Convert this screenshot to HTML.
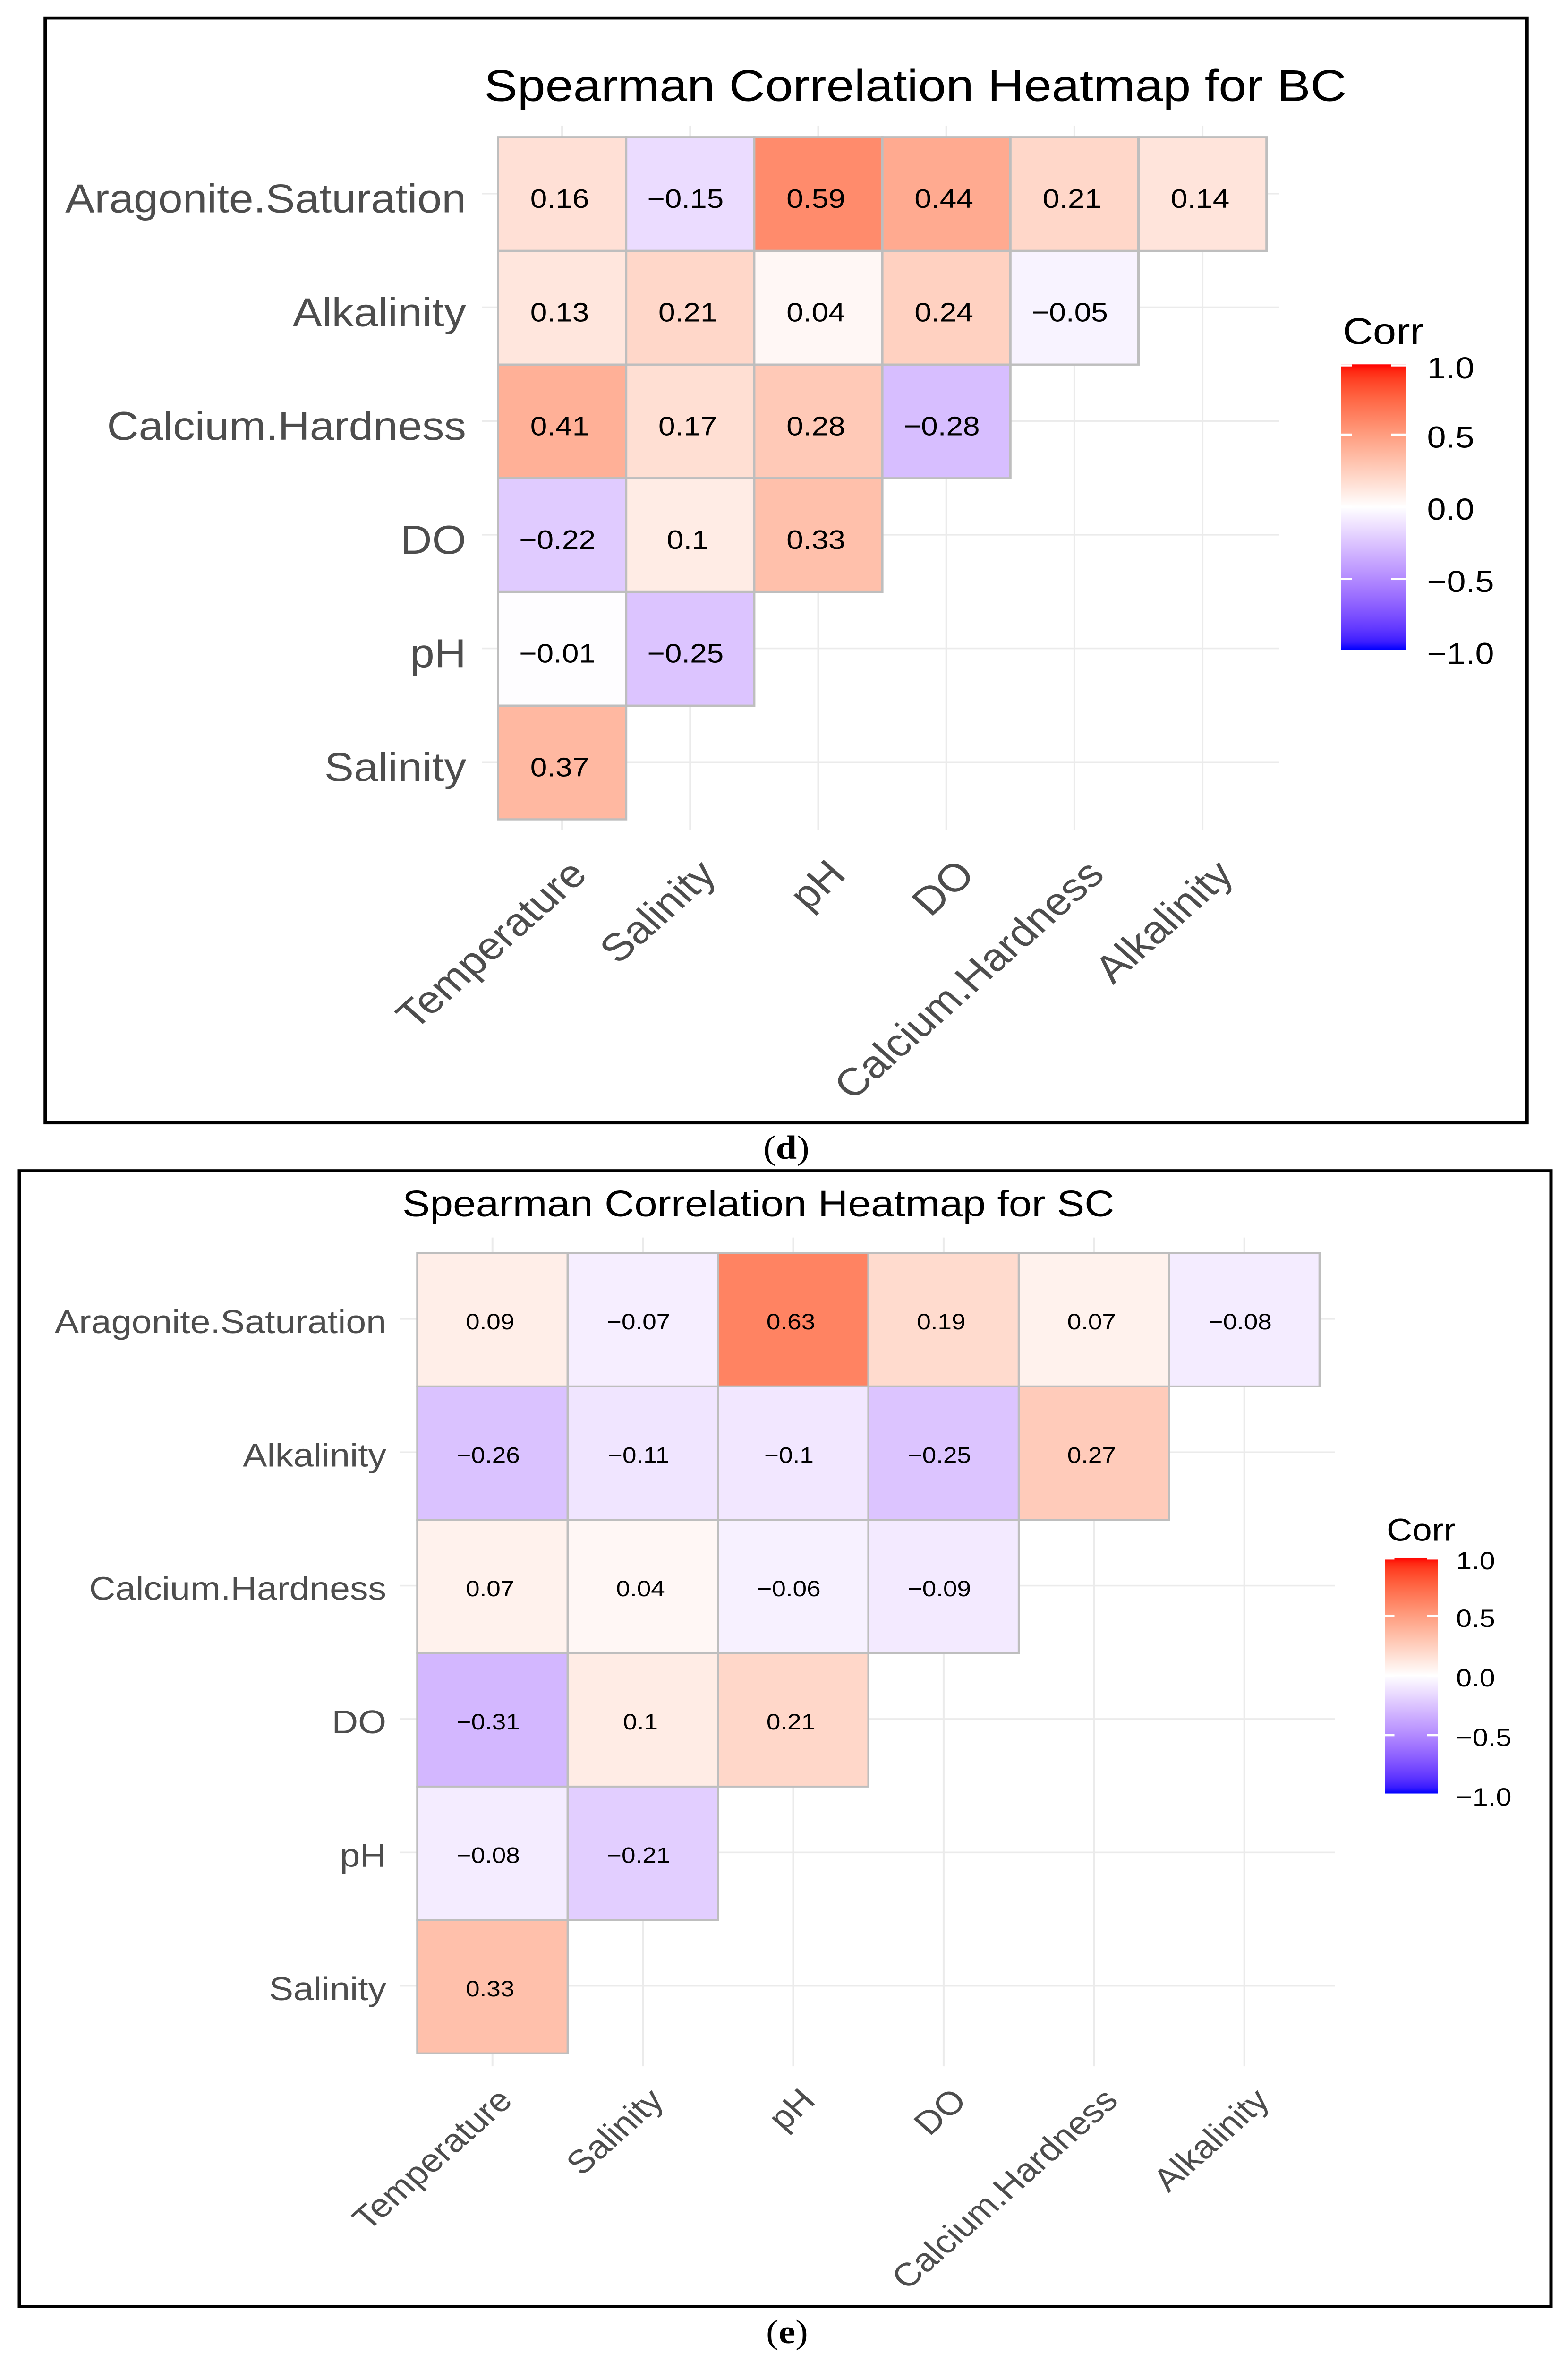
<!DOCTYPE html>
<html lang="en">
<head>
<meta charset="utf-8">
<title>Spearman Correlation Heatmaps for BC and SC</title>
<style>
html,body{margin:0;padding:0;background:#fff;width:100%;height:100%;overflow:hidden}
svg{display:block;width:100vw;height:100vh}
text{font-family:"Liberation Sans",Arial,sans-serif}
.caption{font-family:"Liberation Serif","Times New Roman",serif;font-weight:bold;fill:#000}
.caption tspan{font-weight:normal}
</style>
</head>
<body>
<svg id="figure" xmlns="http://www.w3.org/2000/svg" viewBox="0 0 3320 5640" preserveAspectRatio="none">
  <defs id="defs"></defs>
  <rect x="0" y="0" width="3320" height="5640" fill="#fff"/>

  <g id="panel-d">
    <rect x="96" y="43" width="3137" height="2638" fill="#fff" stroke="#000" stroke-width="7.5"/>
    <text x="1025" y="241" font-size="106" fill="#000">Spearman Correlation Heatmap for BC</text>
    <text class="caption" x="1616" y="2767" font-size="80"><tspan>(</tspan>d<tspan>)</tspan></text>
  </g>

  <g id="panel-e">
    <rect x="41" y="2795.5" width="3243" height="2712" fill="#fff" stroke="#000" stroke-width="7"/>
    <text x="852" y="2904" font-size="87.5" fill="#000">Spearman Correlation Heatmap for SC</text>
    <text class="caption" x="1622" y="5595" font-size="80"><tspan>(</tspan>e<tspan>)</tspan></text>
  </g>
</svg>

<script>
// ---- Chart data ----
const columnLabels = ['Temperature', 'Salinity', 'pH', 'DO', 'Calcium.Hardness', 'Alkalinity'];
const rowLabels = ['Aragonite.Saturation', 'Alkalinity', 'Calcium.Hardness', 'DO', 'pH', 'Salinity'];
const bcValues = [
  [0.16, -0.15, 0.59, 0.44, 0.21, 0.14],
  [0.13, 0.21, 0.04, 0.24, -0.05],
  [0.41, 0.17, 0.28, -0.28],
  [-0.22, 0.1, 0.33],
  [-0.01, -0.25],
  [0.37]
];
const scValues = [
  [0.09, -0.07, 0.63, 0.19, 0.07, -0.08],
  [-0.26, -0.11, -0.1, -0.25, 0.27],
  [0.07, 0.04, -0.06, -0.09],
  [-0.31, 0.1, 0.21],
  [-0.08, -0.21],
  [0.33]
];
const legendTicks = [1, 0.5, 0, -0.5, -1];
const legendTickLabels = ['1.0', '0.5', '0.0', '\u22120.5', '\u22121.0'];

// ---- Panel layout ----
const layoutD = {
  id: 'd', groupId: 'panel-d', values: bcValues,
  left: 1054.5, top: 327.5, cellW: 271.2, cellH: 271.5, borderW: 5,
  gridLeft: 1021, gridRight: 2709, gridTop: 300, gridBottom: 1983, gridW: 4, gridDy: -1,
  yLabelRight: 987, yLabelDy: 44, yLabelSize: 96, yLabelStretch: 0.97,
  xLabelDx: 57, xLabelDrift: 2.6, xLabelY: 2093, xLabelSize: 93,
  cellTextSize: 64, cellTextDx: -5, cellTextDy: 33, negativeDx: -5,
  barLeft: 2840, barRight: 2976, barTop: 870, barBottom: 1551.5, barCapH: 5,
  notchLeft: 2863, notchRight: 2946, legendZero: 1210, legendUnit: 344.5,
  legendTitleX: 2843, legendTitleY: 821, legendTitleSize: 88.5, legendLabelX: 3021.5, legendLabelDy: 31, legendLabelSize: 72
};
const layoutE = {
  id: 'e', groupId: 'panel-e', values: scValues,
  left: 883.5, top: 2992, cellW: 318.4, cellH: 318.5, borderW: 4.5,
  gridLeft: 846, gridRight: 2826, gridTop: 2955, gridBottom: 4934, gridW: 4, gridDy: -2,
  yLabelRight: 818, yLabelDy: 32, yLabelSize: 79, yLabelStretch: 0.975,
  xLabelDx: 46, xLabelDrift: 2.2, xLabelY: 5020, xLabelSize: 78,
  cellTextSize: 53, cellTextDx: -5, cellTextDy: 23, negativeDx: -4,
  barLeft: 2933, barRight: 3045, barTop: 3719, barBottom: 4282.5, barCapH: 5,
  notchLeft: 2952.5, notchRight: 3021, legendZero: 4001, legendUnit: 284.5,
  legendTitleX: 2936, legendTitleY: 3679, legendTitleSize: 75, legendLabelX: 3083, legendLabelDy: 26, legendLabelSize: 59.5
};

// ---- Colour scale: blue - white - red, interpolated in CIE Lab ----
const NS = 'http://www.w3.org/2000/svg';
function srgbToLab(c) {
  const lin = c.map(function (v) { v /= 255; return v <= 0.04045 ? v / 12.92 : Math.pow((v + 0.055) / 1.055, 2.4); });
  const X = (0.4124564 * lin[0] + 0.3575761 * lin[1] + 0.1804375 * lin[2]) / 0.95047;
  const Y = 0.2126729 * lin[0] + 0.7151522 * lin[1] + 0.0721750 * lin[2];
  const Z = (0.0193339 * lin[0] + 0.1191920 * lin[1] + 0.9503041 * lin[2]) / 1.08883;
  const f = function (t) { return t > 0.008856 ? Math.cbrt(t) : 7.787 * t + 16 / 116; };
  return [116 * f(Y) - 16, 500 * (f(X) - f(Y)), 200 * (f(Y) - f(Z))];
}
function labToCss(l) {
  const fy = (l[0] + 16) / 116, fx = fy + l[1] / 500, fz = fy - l[2] / 200;
  const g = function (t) { return t * t * t > 0.008856 ? t * t * t : (t - 16 / 116) / 7.787; };
  const X = g(fx) * 0.95047, Y = g(fy), Z = g(fz) * 1.08883;
  const rgb = [
    3.2404542 * X - 1.5371385 * Y - 0.4985314 * Z,
    -0.9692660 * X + 1.8760108 * Y + 0.0415560 * Z,
    0.0556434 * X - 0.2040259 * Y + 1.0572252 * Z
  ].map(function (v) {
    v = Math.max(0, Math.min(1, v));
    v = v <= 0.0031308 ? 12.92 * v : 1.055 * Math.pow(v, 1 / 2.4) - 0.055;
    return Math.round(v * 255);
  });
  return 'rgb(' + rgb.join(',') + ')';
}
const labHigh = srgbToLab([255, 0, 0]);
const labMid = srgbToLab([255, 255, 255]);
const labLow = srgbToLab([0, 0, 255]);
function fillScale(v) {
  const t = Math.min(1, Math.abs(v));
  const end = v >= 0 ? labHigh : labLow;
  return labToCss(labMid.map(function (m, i) { return m + (end[i] - m) * t; }));
}
function printedValue(v) {
  return String(v).replace('-', '\u2212');
}

// ---- Drawing helpers ----
function makeText(parent, str, x, y, size, fill, anchor) {
  const el = document.createElementNS(NS, 'text');
  el.setAttribute('x', x);
  el.setAttribute('y', y);
  el.setAttribute('font-size', size);
  el.setAttribute('fill', fill);
  el.setAttribute('text-anchor', anchor);
  el.textContent = str;
  parent.appendChild(el);
  return el;
}
function makeRect(parent, x, y, w, h, fill) {
  const el = document.createElementNS(NS, 'rect');
  el.setAttribute('x', x);
  el.setAttribute('y', y);
  el.setAttribute('width', w);
  el.setAttribute('height', h);
  el.setAttribute('fill', fill);
  parent.appendChild(el);
  return el;
}

function drawPanel(p) {
  const group = document.getElementById(p.groupId);
  const xScale = function (i) { return p.left + p.cellW * (i + 0.5); };
  const yScale = function (j) { return p.top + p.cellH * (j + 0.5); };

  // gridlines
  columnLabels.forEach(function (name, i) {
    const g = makeRect(group, xScale(i) - p.gridW / 2, p.gridTop, p.gridW, p.gridBottom - p.gridTop, '#ebebeb');
    
    
  });
  rowLabels.forEach(function (name, j) {
    const g = makeRect(group, p.gridLeft, yScale(j) + p.gridDy - p.gridW / 2, p.gridRight - p.gridLeft, p.gridW, '#ebebeb');
    
    
  });

  // cells and their printed values
  p.values.forEach(function (row, j) {
    row.forEach(function (v, i) {
      const cell = makeRect(group, xScale(i) - p.cellW / 2, yScale(j) - p.cellH / 2, p.cellW, p.cellH, fillScale(v));
      cell.setAttribute('stroke', '#bebebe');
      cell.setAttribute('stroke-width', p.borderW);
      
      
    });
  });
  p.values.forEach(function (row, j) {
    row.forEach(function (v, i) {
      const dx = p.cellTextDx + (v < 0 ? p.negativeDx : 0);
      const label = makeText(group, printedValue(v), xScale(i) + dx, yScale(j) + p.cellTextDy, p.cellTextSize, '#000', 'middle');
      
      
    });
  });

  // y axis labels
  rowLabels.forEach(function (name, j) {
    const t = makeText(group, name, 0, 0, p.yLabelSize, '#4d4d4d', 'end');
    t.setAttribute('transform', 'translate(' + p.yLabelRight + ',' + (yScale(j) + p.yLabelDy) + ') scale(' + p.yLabelStretch + ',1)');
    
    
  });

  // x axis labels
  columnLabels.forEach(function (name, i) {
    const t = makeText(group, name, 0, 0, p.xLabelSize, '#4d4d4d', 'end');
    t.setAttribute('transform', 'translate(' + (xScale(i) + p.xLabelDx + i * p.xLabelDrift) + ',' + p.xLabelY + ') rotate(-45)');
    
    
  });

  // legend
  const legendY = function (v) { return p.legendZero - v * p.legendUnit; };
  const legendTitle = makeText(group, 'Corr', p.legendTitleX, p.legendTitleY, p.legendTitleSize, '#000', 'start');
  
  

  const gradient = document.createElementNS(NS, 'linearGradient');
  gradient.setAttribute('id', 'legend-gradient-' + p.id);
  gradient.setAttribute('x1', '0');
  gradient.setAttribute('y1', '0');
  gradient.setAttribute('x2', '0');
  gradient.setAttribute('y2', '1');
  for (let k = 0; k <= 40; k++) {
    const stop = document.createElementNS(NS, 'stop');
    stop.setAttribute('offset', k / 40);
    stop.setAttribute('stop-color', fillScale(1 - k / 20));
    gradient.appendChild(stop);
  }
  document.getElementById('defs').appendChild(gradient);

  const bar = makeRect(group, p.barLeft, p.barTop, p.barRight - p.barLeft, p.barBottom - p.barTop, 'url(#legend-gradient-' + p.id + ')');
  
  

  legendTicks.forEach(function (v, k) {
    const raw = legendY(v);
    const y = Math.max(raw, p.barTop + p.barCapH / 2);
    if (y + p.barCapH / 2 <= p.barBottom) {
      const tickL = makeRect(group, p.barLeft, y - p.barCapH / 2, p.notchLeft - p.barLeft, p.barCapH, '#fff');
      
      
      const tickR = makeRect(group, p.notchRight, y - p.barCapH / 2, p.barRight - p.notchRight, p.barCapH, '#fff');
      
      
    }
    const label = makeText(group, legendTickLabels[k], p.legendLabelX, y + p.legendLabelDy, p.legendLabelSize, '#000', 'start');
    
    
  });
}

drawPanel(layoutD);
drawPanel(layoutE);
</script>
</body>
</html>
